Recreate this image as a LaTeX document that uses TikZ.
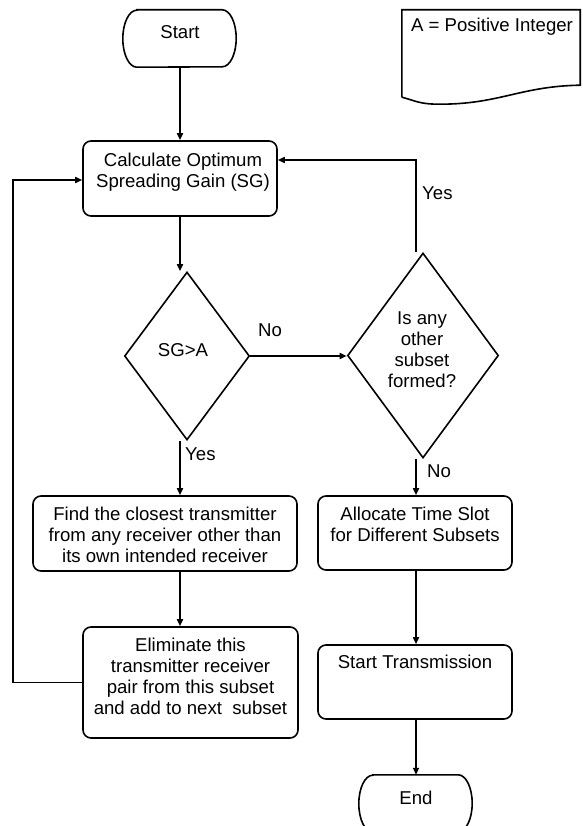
\documentclass[tikz,border=0pt]{standalone}
\usepackage{fontspec}
\setmainfont{Liberation Sans}
\usetikzlibrary{shapes.geometric,arrows.meta,calc}
\newcommand\termshape[1]{%
  \draw[ln] ([xshift=14pt]#1.north west) -- ([xshift=-14pt]#1.north east)
    arc[start angle=-90,end angle=90,x radius=14,y radius=28.5]
    -- ([xshift=14pt]#1.south west)
    arc[start angle=90,end angle=270,x radius=14,y radius=28.5] -- cycle;}
\begin{document}
\begin{tikzpicture}[x=1pt,y=-1pt,
  ln/.style={line width=1.6pt},
  arr/.style={ln,-{Triangle[length=7pt,width=6pt]}},
  box/.style={ln,draw,rectangle,rounded corners=8pt,inner sep=0pt},
  dia/.style={ln,draw,diamond,inner sep=0pt},
  blank/.style={rectangle,inner sep=0pt},
  txt/.style={inner sep=0pt,align=center,font=\fontsize{18.6}{21}\selectfont},
  lbl/.style={inner sep=0pt,font=\fontsize{18.6}{21}\selectfont}]
\useasboundingbox (0,0) rectangle (582,826);
% columns and loop corners
\coordinate (col1) at (180,0);
\coordinate (col2) at (416,0);
\coordinate (loopR) at (416,160);
\coordinate (loopL) at (13,180);
% terminals
\node[blank,minimum width=113pt,minimum height=57pt] (start) at (179.5,38.5) {};
\termshape{start}
\node[lbl,anchor=base] (startt) at (180,39) {Start};
\node[blank,minimum width=113pt,minimum height=57pt] (end) at (415.5,803.5) {};
\termshape{end}
\node[lbl,anchor=base] (endt) at (416,804) {End};
% document
\node[blank,minimum width=178pt,minimum height=87pt] (doc) at (491,53.5) {};
\draw[ln] (doc.south west) -- (doc.north west) -- (doc.north east)
  -- ([yshift=12pt]doc.south east)
  .. controls +(-60,1) and +(60,0) .. ([xshift=38pt,yshift=-7pt]doc.south west)
  .. controls +(-20,0) and +(15,4) .. (doc.south west);
\node[lbl,anchor=base] (doct) at (492,32) {A = Positive Integer};
% process boxes
\node[box,minimum width=194pt,minimum height=75pt] (calc) at (180,178.5) {};
\node[txt,anchor=north] (calct) at ([xshift=3pt,yshift=-13pt]calc.north) {Calculate Optimum\\Spreading Gain (SG)};
\node[box,minimum width=264pt,minimum height=75pt] (find) at (165,533.5) {};
\node[txt,anchor=north] (findt) at ([yshift=-12pt]find.north) {Find the closest transmitter\\from any receiver other than\\its own intended receiver};
\node[box,minimum width=215pt,minimum height=111pt] (elim) at (190.5,682.5) {};
\node[txt,anchor=north] (elimt) at ([yshift=-12pt]elim.north) {Eliminate this\\transmitter receiver\\pair from this subset\\and add to next\ \ subset};
\node[box,minimum width=194pt,minimum height=74pt] (alloc) at (415,533) {};
\node[txt,anchor=north] (alloct) at ([yshift=-12pt]alloc.north) {Allocate Time Slot\\for Different Subsets};
\node[box,minimum width=194pt,minimum height=74pt] (stx) at (415,682) {};
\node[txt,anchor=north] (stxt) at ([yshift=-11pt]stx.north) {Start Transmission};
% decisions
\node[dia,minimum width=125pt,minimum height=168pt] (d1) at (187,356) {};
\node[lbl,anchor=base] (d1t) at (183,356) {SG>A};
\node[dia,minimum width=151pt,minimum height=205pt] (d2) at (423,355.5) {};
\node[txt,anchor=north] (d2t) at (422,312) {Is any\\other\\subset\\formed?};
% connectors
\draw[arr] (col1 |- start.south) -- (col1 |- calc.north);
\draw[arr] (col1 |- calc.south) -- (col1 |- d1.north);
\draw[arr] (col1 |- d1.south) -- (col1 |- find.north);
\draw[arr] (col1 |- find.south) -- (col1 |- elim.north);
\draw[arr] (elim.west) -- (loopL |- elim.west) -- (loopL) -- (calc.west |- loopL);
\draw[arr] (d1.east) -- (d1.east -| d2.west);
\draw[arr] (col2 |- d2.north) -- (loopR) -- (calc.east |- loopR);
\draw[arr] (col2 |- d2.south) -- (col2 |- alloc.north);
\draw[arr] (col2 |- alloc.south) -- (col2 |- stx.north);
\draw[arr] (col2 |- stx.south) -- (col2 |- end.north);
% labels
\node[lbl,anchor=base] (no1) at (270,336) {No};
\node[lbl,anchor=base west] (yes1) at (185,460) {Yes};
\node[lbl,anchor=base west] (no2) at (427,477) {No};
\node[lbl,anchor=base west] (yes2) at (422,200) {Yes};
\end{tikzpicture}
\end{document}
